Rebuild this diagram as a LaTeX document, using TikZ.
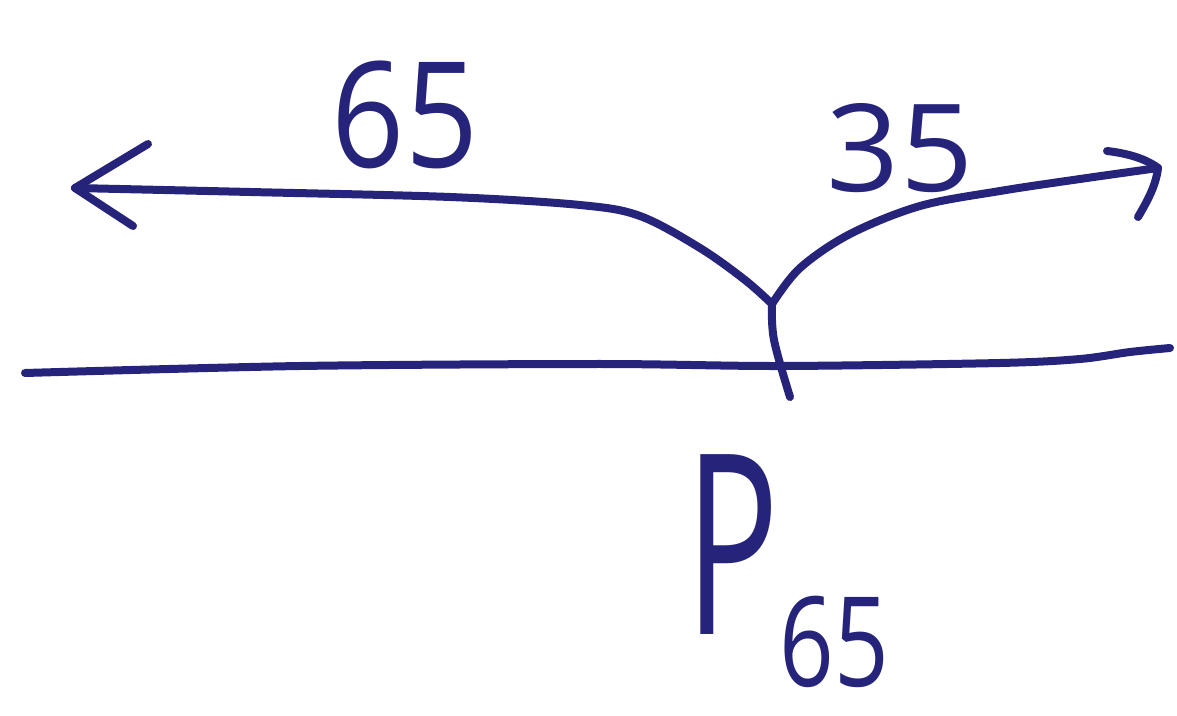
\documentclass[tikz,border=0pt]{standalone}
\usepackage{fontspec}
\setmainfont{Open Sans}
\definecolor{ink}{RGB}{38,36,122}
\tikzset{
  pen/.style={draw=ink, line width=4pt, line cap=round, line join=round},
  hand/.style={text=ink, inner sep=0pt, font=\fontsize{#1}{#1}\selectfont},
}
\begin{document}
\begin{tikzpicture}[x=0.5pt,y=-0.5pt]
\useasboundingbox (0,0) rectangle (1177,716);
% key points of the sketch
\coordinate (J) at (772,304);
\coordinate (L) at (75,188);
\coordinate (R) at (1158,168);
\coordinate (A) at (25,373);
\coordinate (B) at (1170,348);
\coordinate (T) at (790,397);
% number line
\draw[pen] plot[smooth, tension=0.5] coordinates {(A) (300,366) (600,364) (780,366) (1000,363) (1080,359) (1130,352) (B)};
% tick at the point
\draw[pen] plot[smooth, tension=0.6] coordinates {(J) (774,340) (T)};
% left-going branch with its barbs
\draw[pen] plot[smooth, tension=0.55] coordinates {(J) (745,280) (700,248) (640,216) (580,205) (450,197) (250,192) (L)};
\draw[pen] (L) -- (148,144);
\draw[pen] (L) -- (133,226);
% right-going branch with its barbs
\draw[pen] plot[smooth, tension=0.55] coordinates {(J) (800,268) (850,234) (920,206) (1000,191) (1080,179) (R)};
\draw[pen] (R) .. controls (1145,158) and (1125,153) .. (1107,151);
\draw[pen] (R) .. controls (1156,185) and (1148,200) .. (1138,217);
% labels
\node[hand=64, yscale=1.15] (lft) at (405,115) {65};
\node[hand=64, yscale=0.95] (rgt) at (900,148) {35};
\node[hand=120, xscale=0.65, yscale=1.05] (p) at (732,545) {P};
\node[hand=52, xscale=0.92, yscale=1.2] (sub) at (834,642) {65};
\end{tikzpicture}
\end{document}
